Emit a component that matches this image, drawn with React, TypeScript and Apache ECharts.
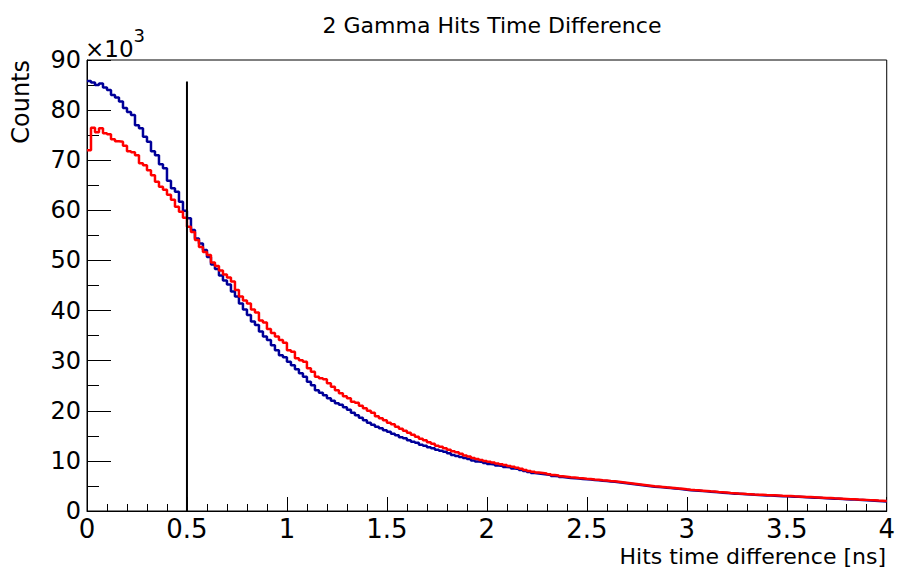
import React, { useEffect, useRef } from "react";
import * as echarts from "echarts";

// Histogram binning
const BIN_WIDTH = 0.02; // ns
const X_MIN = 0;
const X_MAX = 4;

// Blue histogram, counts in thousands, 200 bins of 0.02 ns
const BLUE_COUNTS = [
  85.8, 85.5, 85.0, 85.3, 84.5, 84.0, 83.0, 82.5, 81.7, 80.4,
  79.6, 79.0, 77.0, 76.4, 74.7, 73.7, 71.8, 71.0, 69.2, 68.4,
  65.9, 64.4, 63.7, 61.7, 59.9, 58.4, 56.1, 54.4, 53.4, 52.1,
  50.7, 49.2, 48.3, 47.0, 46.0, 45.2, 43.8, 42.8, 41.4, 40.2,
  39.1, 37.8, 37.1, 35.8, 34.8, 34.1, 33.1, 32.1, 31.1, 30.7,
  29.8, 29.1, 28.3, 27.5, 26.8, 25.8, 25.1, 24.1, 23.6, 23.1,
  22.5, 22.0, 21.5, 21.2, 20.7, 20.2, 19.6, 19.1, 18.6, 18.1,
  17.6, 17.2, 16.8, 16.5, 16.1, 15.8, 15.4, 15.1, 14.7, 14.5,
  14.1, 13.8, 13.6, 13.2, 13.0, 12.7, 12.5, 12.2, 12.0, 11.8,
  11.5, 11.2, 11.0, 10.8, 10.6, 10.4, 10.1, 9.9, 9.8, 9.6,
  9.4, 9.3, 9.1, 9.0, 8.8, 8.7, 8.5, 8.4, 8.2, 8.0,
  7.8, 7.6, 7.5, 7.4, 7.3, 7.2, 7.0, 6.95, 6.8, 6.7,
  6.6, 6.55, 6.5, 6.4, 6.35, 6.3, 6.2, 6.15, 6.05, 6.0,
  5.9, 5.85, 5.75, 5.65, 5.55, 5.45, 5.35, 5.25, 5.15, 5.05,
  4.95, 4.85, 4.8, 4.72, 4.65, 4.58, 4.5, 4.42, 4.35, 4.25,
  4.15, 4.1, 4.05, 3.98, 3.92, 3.85, 3.8, 3.72, 3.65, 3.6,
  3.52, 3.45, 3.42, 3.38, 3.32, 3.28, 3.22, 3.18, 3.15, 3.1,
  3.08, 3.05, 3.0, 2.95, 2.92, 2.9, 2.85, 2.82, 2.78, 2.72,
  2.7, 2.66, 2.62, 2.58, 2.55, 2.5, 2.45, 2.42, 2.38, 2.35,
  2.3, 2.27, 2.22, 2.2, 2.15, 2.1, 2.05, 2.0, 1.97, 1.92,
];

// Red histogram, counts in thousands, 200 bins of 0.02 ns
const RED_COUNTS = [
  72.0, 76.5, 75.6, 76.4, 75.4, 75.2, 74.2, 73.8, 73.7, 72.9,
  71.8, 71.6, 71.0, 69.4, 69.0, 68.0, 67.0, 65.7, 64.7, 64.1,
  63.1, 62.1, 60.7, 59.7, 58.5, 56.7, 55.7, 54.1, 52.7, 51.7,
  51.1, 49.6, 48.9, 48.0, 47.2, 46.6, 45.8, 44.1, 42.8, 42.0,
  41.4, 40.2, 39.6, 38.0, 37.6, 36.3, 35.5, 34.8, 34.1, 33.6,
  32.1, 31.8, 30.5, 30.1, 29.8, 28.5, 27.8, 26.8, 26.5, 26.3,
  25.5, 24.8, 24.1, 23.5, 22.9, 22.5, 21.8, 21.6, 21.0, 20.5,
  20.0, 19.6, 18.9, 18.5, 18.1, 17.6, 17.3, 16.8, 16.4, 16.0,
  15.6, 15.2, 14.8, 14.4, 14.1, 13.7, 13.4, 13.0, 12.8, 12.5,
  12.2, 11.9, 11.7, 11.4, 11.1, 10.9, 10.6, 10.4, 10.2, 10.0,
  9.85, 9.7, 9.5, 9.35, 9.2, 9.0, 8.85, 8.65, 8.45, 8.2,
  8.0, 7.85, 7.7, 7.6, 7.5, 7.35, 7.2, 7.1, 6.95, 6.85,
  6.75, 6.7, 6.6, 6.55, 6.45, 6.4, 6.3, 6.25, 6.15, 6.1,
  6.0, 5.95, 5.85, 5.75, 5.65, 5.55, 5.45, 5.35, 5.25, 5.15,
  5.05, 4.95, 4.88, 4.8, 4.72, 4.65, 4.58, 4.5, 4.42, 4.33,
  4.25, 4.18, 4.12, 4.06, 4.0, 3.93, 3.88, 3.8, 3.74, 3.68,
  3.6, 3.55, 3.5, 3.46, 3.4, 3.36, 3.3, 3.26, 3.22, 3.18,
  3.15, 3.12, 3.08, 3.03, 3.0, 2.97, 2.93, 2.9, 2.85, 2.8,
  2.77, 2.73, 2.69, 2.65, 2.61, 2.57, 2.52, 2.49, 2.45, 2.41,
  2.37, 2.33, 2.29, 2.26, 2.22, 2.17, 2.13, 2.08, 2.04, 1.99,
];

// Vertical cut line
const CUT_X = 0.5;
const CUT_TOP = 85.7;

const TITLE = "2 Gamma Hits Time Difference";
const X_NAME = "Hits time difference [ns]";
const Y_NAME = "Counts";
const Y_SCALE_BASE = "×10";
const Y_SCALE_EXP = "3";

const FONT = "'DejaVu Sans', 'Liberation Sans', sans-serif";

function toSteps(counts: number[]): [number, number][] {
  const pts: [number, number][] = counts.map((v, i) => [X_MIN + i * BIN_WIDTH, v]);
  pts.push([X_MIN + counts.length * BIN_WIDTH, counts[counts.length - 1]]);
  return pts;
}

export default function App() {
  const ref = useRef<HTMLDivElement>(null);

  useEffect(() => {
    if (!ref.current) return;
    const chart = echarts.init(ref.current, undefined, { renderer: "svg" });
    chart.setOption({
      animation: false,
      backgroundColor: "#ffffff",
      textStyle: { fontFamily: FONT },
      title: {
        text: TITLE,
        left: 487,
        top: 9,
        textAlign: "center",
        textStyle: { fontFamily: FONT, fontSize: 22, fontWeight: "normal", color: "#000" },
      },
      grid: {
        left: 87,
        right: 11,
        top: 60,
        bottom: 59,
        show: true,
        borderColor: "#000",
        borderWidth: 1,
        backgroundColor: "transparent",
      },
      xAxis: {
        type: "value",
        min: X_MIN,
        max: X_MAX,
        interval: 0.5,
        axisLine: { show: true, lineStyle: { color: "#000", width: 1 } },
        axisTick: { show: true, inside: true, length: 14, lineStyle: { color: "#000" } },
        minorTick: { show: true, splitNumber: 5, length: 7, lineStyle: { color: "#000" } },
        splitLine: { show: false },
        axisLabel: {
          show: true,
          fontFamily: FONT,
          fontSize: 26,
          lineHeight: 20,
          color: "#000",
          margin: 8,
          showMinLabel: true,
          showMaxLabel: true,
        },
      },
      yAxis: {
        type: "value",
        min: 0,
        max: 90,
        interval: 10,
        axisLine: { show: true, lineStyle: { color: "#000", width: 1 } },
        axisTick: { show: true, inside: true, length: 24, lineStyle: { color: "#000" } },
        minorTick: { show: true, splitNumber: 2, length: 12, lineStyle: { color: "#000" } },
        splitLine: { show: false },
        axisLabel: {
          show: true,
          fontFamily: FONT,
          fontSize: 24,
          color: "#000",
          margin: 6,
        },
      },
      graphic: [
        {
          type: "text",
          left: 85,
          top: 26,
          style: {
            text: `{b|${Y_SCALE_BASE}}{e|${Y_SCALE_EXP}}`,
            font: `23px ${FONT}`,
            fill: "#000",
            rich: {
              b: { fontFamily: FONT, fontSize: 23, lineHeight: 34, verticalAlign: "bottom", fill: "#000" },
              e: { fontFamily: FONT, fontSize: 18, lineHeight: 18, verticalAlign: "top", fill: "#000" },
            },
          },
        },
        {
          type: "text",
          right: 12,
          top: 545,
          style: { text: X_NAME, font: `22px ${FONT}`, fill: "#000" },
        },
        {
          type: "text",
          left: 9,
          top: 60,
          rotation: Math.PI / 2,
          style: { text: Y_NAME, font: `24px ${FONT}`, fill: "#000" },
        },
      ],
      series: [
        {
          name: "blue",
          type: "line",
          step: "end",
          symbol: "none",
          data: toSteps(BLUE_COUNTS),
          lineStyle: { color: "#000099", width: 2.5 },
          z: 3,
        },
        {
          name: "red",
          type: "line",
          step: "end",
          symbol: "none",
          data: toSteps(RED_COUNTS),
          lineStyle: { color: "#ff0000", width: 2.5 },
          z: 4,
        },
        {
          name: "cut",
          type: "line",
          symbol: "none",
          data: [
            [CUT_X, 0],
            [CUT_X, CUT_TOP],
          ],
          lineStyle: { color: "#000", width: 2 },
          z: 5,
        },
      ],
    });
    return () => chart.dispose();
  }, []);

  return <div ref={ref} style={{ width: 898, height: 570, position: "absolute", left: 0, top: 0 }} />;
}
